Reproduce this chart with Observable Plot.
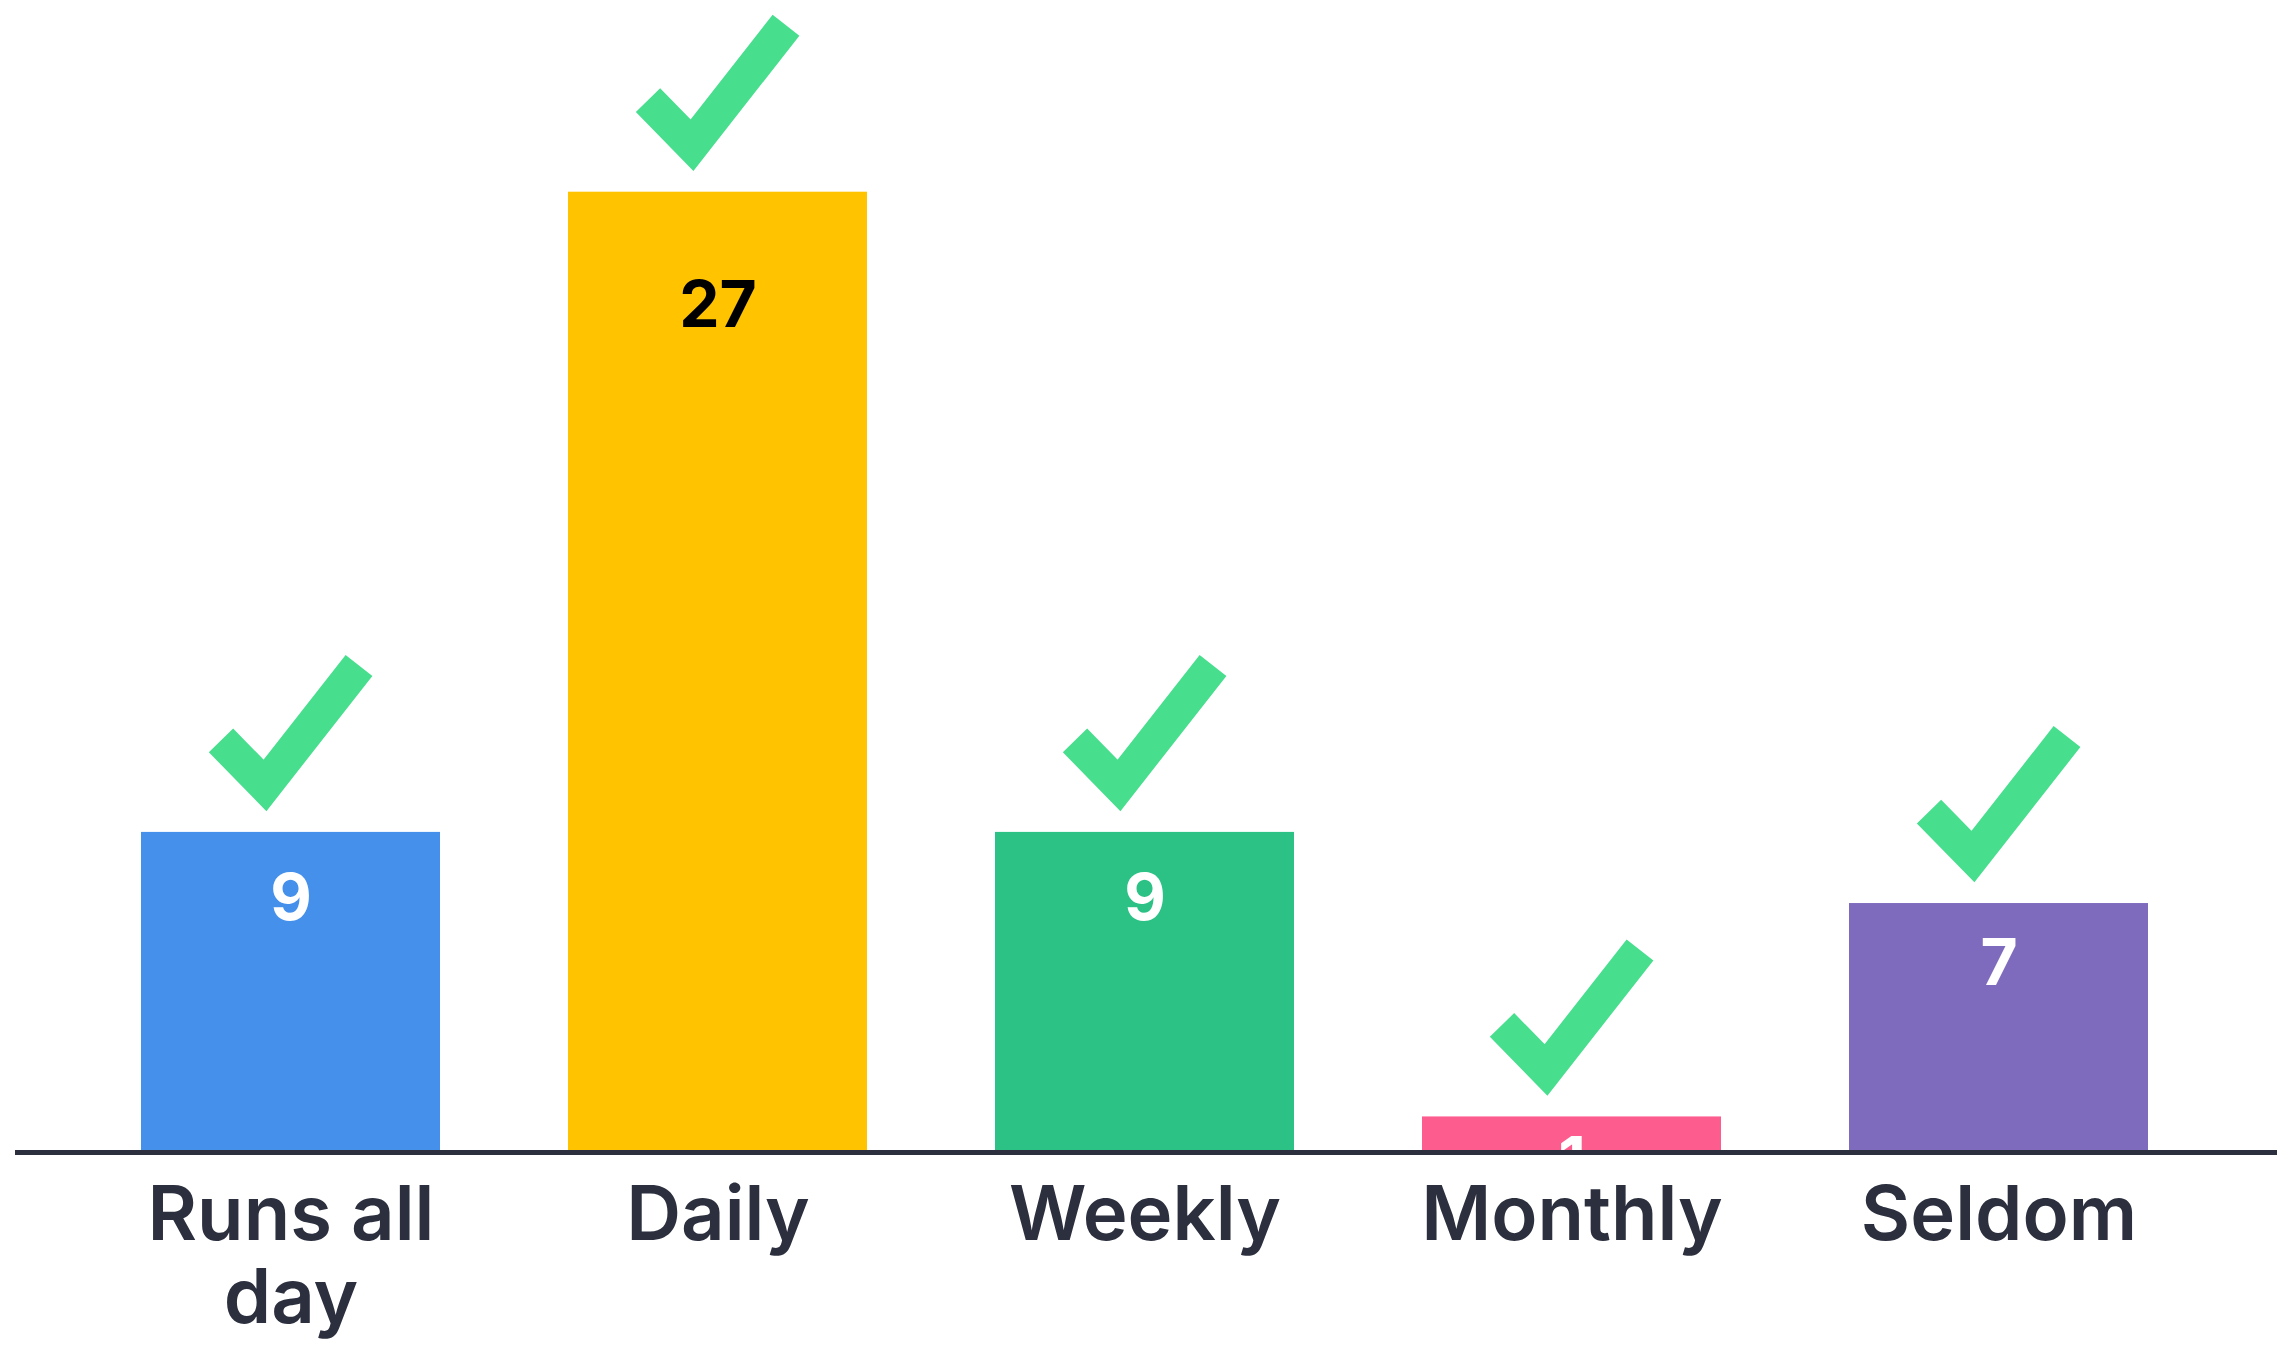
<!DOCTYPE html>
<html>
<head>
<meta charset="utf-8">
<script src="https://cdn.jsdelivr.net/npm/d3@7"></script>
<script src="https://cdn.jsdelivr.net/npm/@observablehq/plot@0.6"></script>
<style>
  html, body { margin: 0; padding: 0; background: #ffffff; }
  #chart svg { display: block; }
</style>
</head>
<body>
<div id="chart"></div>
<script>
const categories = ["Runs all day", "Daily", "Weekly", "Monthly", "Seldom"];
const tickLabels = ["Runs all\nday", "Daily", "Weekly", "Monthly", "Seldom"];
const values = [9, 27, 9, 1, 7];
const barColors = ["#4590eb", "#ffc300", "#2dc285", "#fd5c8f", "#7f6bbd"];
const valueColors = ["#ffffff", "#000000", "#ffffff", "#ffffff", "#ffffff"];

const data = categories.map((c, i) => ({
  category: c,
  label: tickLabels[i],
  value: values[i],
  color: barColors[i],
  textColor: valueColors[i]
}));

// checkmark drawn relative to the top-centre of each bar
const check = {
  draw(context) {
    context.moveTo(-70, -92);
    context.lineTo(-26, -47);
    context.lineTo(68, -167);
  }
};

const chart = Plot.plot({
  width: 2289,
  height: 1345,
  marginLeft: 76,
  marginRight: 76,
  marginTop: 85,
  marginBottom: 193,
  x: { domain: categories, paddingInner: 0.3, paddingOuter: 0.15, axis: null },
  y: { domain: [0, 30], axis: null },
  color: { type: "identity" },
  style: { background: "#ffffff", fontFamily: "Inter, Lato, 'Noto Sans', sans-serif" },
  marks: [
    Plot.barY(data, { x: "category", y: "value", fill: "color" }),
    Plot.text(data, {
      x: "category",
      y: d => d.value * 0.926 - 1.21,
      text: d => String(d.value),
      fill: "textColor",
      fontSize: 64,
      fontWeight: 700,
      clip: true
    }),
    Plot.dot(data, {
      x: "category",
      y: "value",
      r: 10,
      symbol: check,
      fill: "none",
      stroke: "#47de8e",
      strokeWidth: 34,
      strokeLinejoin: "miter",
      strokeLinecap: "butt"
    }),
    Plot.ruleY([0], { stroke: "#2b2f3e", strokeWidth: 5, insetLeft: -61, insetRight: -64 }),
    Plot.text(data, {
      x: "category",
      y: 0,
      text: "label",
      lineAnchor: "top",
      dy: 28,
      lineHeight: 1.1,
      fontSize: 76,
      fontWeight: 600,
      fill: "#2b2f3e"
    })
  ]
});

document.getElementById("chart").appendChild(chart);
</script>
</body>
</html>
